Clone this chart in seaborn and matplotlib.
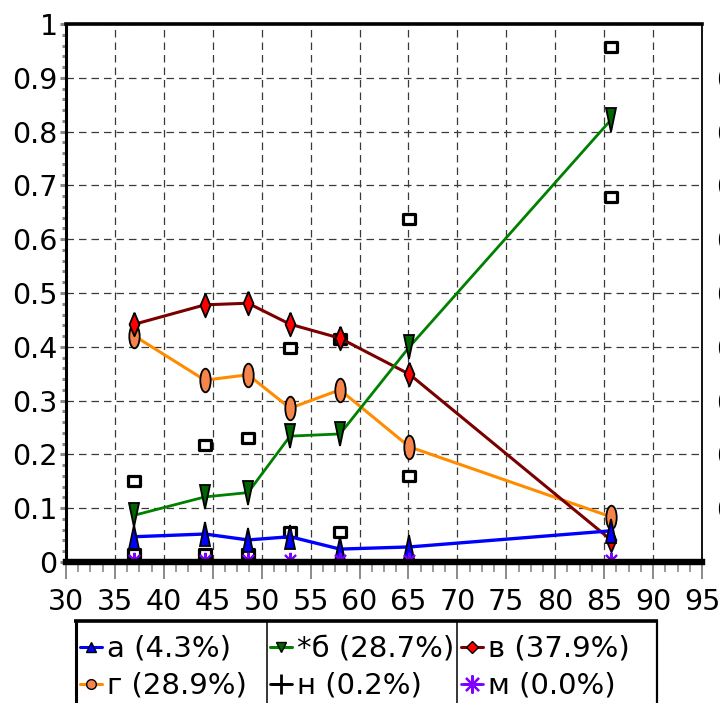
import matplotlib
matplotlib.use("Agg")
import numpy as np
import pandas as pd
import matplotlib.pyplot as plt
import seaborn as sns
from matplotlib.markers import MarkerStyle
from matplotlib.transforms import Affine2D
from matplotlib.lines import Line2D
from matplotlib.ticker import MultipleLocator

# ---------------- data ----------------
x_vals = [37.0, 44.2, 48.6, 52.9, 58.0, 65.1, 85.7]
a_vals = [0.047, 0.052, 0.041, 0.047, 0.024, 0.028, 0.058]
b_vals = [0.087, 0.121, 0.129, 0.234, 0.238, 0.400, 0.822]
v_vals = [0.442, 0.478, 0.481, 0.442, 0.416, 0.349, 0.041]
g_vals = [0.420, 0.338, 0.348, 0.286, 0.320, 0.214, 0.084]
n_vals = [0.002, 0.002, 0.002, 0.002, 0.002, 0.002, 0.002]
m_vals = [0.004, 0.004, 0.004, 0.004, 0.004, 0.004, 0.004]
range_lo = [0.015, 0.015, 0.015, 0.055, 0.055, 0.160, 0.678]
range_hi = [0.150, 0.218, 0.230, 0.398, 0.415, 0.637, 0.957]

legend_labels = ["а (4.3%)", "г (28.9%)", "*б (28.7%)", "н (0.2%)", "в (37.9%)", "м (0.0%)"]
x_ticks = [30, 35, 40, 45, 50, 55, 60, 65, 70, 75, 80, 85, 90, 95]
y_ticks = [0, 0.1, 0.2, 0.3, 0.4, 0.5, 0.6, 0.7, 0.8, 0.9, 1.0]
y_ticklabels = ["0", "0.1", "0.2", "0.3", "0.4", "0.5", "0.6", "0.7", "0.8", "0.9", "1"]
right_ticks = [0.1, 0.2, 0.3, 0.4, 0.5, 0.6, 0.7, 0.8, 0.9]
right_ticklabels = ["0.1", "0.2", "0.3", "0.4", "0.5", "0.6", "0.7", "0.8", "0.9"]

sns.set_theme(style="white")
plt.rcParams["font.family"] = ["DejaVu Sans"]
plt.rcParams["text.color"] = "black"

W, H = 720, 703
fig = plt.figure(figsize=(W / 100, H / 100), dpi=100)
ax = fig.add_axes([66 / W, 1 - 562 / H, (702 - 66) / W, (562 - 24) / H])


def tall(m, sx=0.42):
    return MarkerStyle(m, transform=Affine2D().scale(sx, 1.0))


diamond = [(0, 1), (0.42, 0), (0, -1), (-0.42, 0), (0, 1)]

# range rectangles (hollow)
rng = pd.DataFrame({"x": x_vals + x_vals, "y": range_lo + range_hi})
sns.scatterplot(data=rng, x="x", y="y", ax=ax, marker=tall("s", 1.3), s=46,
                color="white", edgecolor="black", linewidth=2.3, zorder=1.8,
                legend=False)

common = dict(errorbar=None, ax=ax, markeredgecolor="black", markeredgewidth=1.3,
              legend=False)

sns.lineplot(x=x_vals, y=g_vals, color="#ff8c00", linewidth=2.2, marker=tall("o", 0.44),
             markersize=17, markerfacecolor="#f5854a", zorder=2.2, **common)
sns.lineplot(x=x_vals, y=v_vals, color="#7a0000", linewidth=2.2, marker=diamond,
             markersize=17, markerfacecolor="#ff0000", zorder=2.3, **common)
sns.lineplot(x=x_vals, y=b_vals, color="#008000", linewidth=2.0, marker=tall("v", 0.45),
             markersize=17, markerfacecolor="#006400", zorder=2.4, **common)
sns.lineplot(x=x_vals, y=a_vals, color="#0000ff", linewidth=2.4, marker=tall("^", 0.42),
             markersize=17, markerfacecolor="#0000ff", zorder=2.5, **common)
sns.lineplot(x=x_vals, y=n_vals, color="black", linewidth=2.0, marker="+",
             markersize=12, markeredgewidth=2, ax=ax, errorbar=None, legend=False, zorder=2.6)
sns.lineplot(x=x_vals, y=m_vals, color="#8000ff", linewidth=2.0, marker=(8, 2, 0),
             markersize=11, markeredgewidth=1.5, markeredgecolor="#8000ff",
             ax=ax, errorbar=None, legend=False, zorder=2.7)

ax.set_xlim(30, 95)
ax.set_ylim(0, 1)
ax.set_xticks(x_ticks)
ax.set_xticklabels([str(t) for t in x_ticks])
ax.set_yticks(y_ticks)
ax.set_yticklabels(y_ticklabels)
ax.xaxis.set_minor_locator(MultipleLocator(1.25))
ax.yaxis.set_minor_locator(MultipleLocator(0.02))
ax.set_xlabel("")
ax.set_ylabel("")

ax.grid(True, which="major", color="#3a3a3a", linestyle=(0, (6, 4)), linewidth=0.9)
ax.set_axisbelow(True)

ax.tick_params(axis="x", which="major", bottom=True, direction="out", length=12,
               width=1.4, color="#8a8a8a", labelsize=20.5, labelcolor="black", pad=7)
ax.tick_params(axis="x", which="minor", bottom=True, direction="out", length=7,
               width=1.2, color="#8a8a8a")
ax.tick_params(axis="y", which="major", left=True, direction="out", length=4,
               width=2.2, color="#8a8a8a", labelsize=20.5, labelcolor="black", pad=2)
ax.tick_params(axis="y", which="minor", left=True, direction="out", length=3,
               width=2.2, color="#8a8a8a")

for side, lw in [("left", 2.2), ("top", 2.6), ("right", 1.3), ("bottom", 4.6)]:
    ax.spines[side].set_visible(True)
    ax.spines[side].set_color("black")
    ax.spines[side].set_linewidth(lw)
    ax.spines[side].set_zorder(5)

# right-side labels (cut by figure edge)
ax2 = ax.twinx()
ax2.set_ylim(0, 1)
ax2.set_yticks(right_ticks)
ax2.set_yticklabels(right_ticklabels)
ax2.tick_params(axis="y", right=True, length=0, labelsize=20.5, pad=10.5, labelcolor="black")
ax2.grid(False)
for s in ax2.spines.values():
    s.set_visible(False)

# legend (three columns)
h_a = Line2D([], [], color="#0000ff", lw=2.2, marker="^", ms=7, mfc="#0000ff", mec="black", mew=1)
h_g = Line2D([], [], color="#ff8c00", lw=2.2, marker="o", ms=7, mfc="#f5854a", mec="black", mew=1)
h_b = Line2D([], [], color="#008000", lw=2.2, marker="v", ms=7, mfc="#006400", mec="black", mew=1)
h_n = Line2D([], [], color="black", lw=2.0, marker="+", ms=14, mec="black", mew=2)
h_v = Line2D([], [], color="#7a0000", lw=2.2, marker="D", ms=6, mfc="#ff0000", mec="black", mew=1)
h_m = Line2D([], [], color="#8000ff", lw=2.0, marker=(8, 2, 0), ms=13, mec="#8000ff", mew=1.6)

cols = [([h_a, h_g], legend_labels[0:2], 80),
        ([h_b, h_n], legend_labels[2:4], 270),
        ([h_v, h_m], legend_labels[4:6], 461)]
for hs, ls, x0 in cols:
    fig.legend(handles=hs, labels=ls, loc="upper left",
               bbox_to_anchor=(x0 / W, 1 - 635 / H), frameon=False, fontsize=21,
               handlelength=0.76, handletextpad=0.17, borderpad=0, borderaxespad=0,
               labelspacing=0.3, labelcolor="black")

def fline(x1, y1, x2, y2, lw):
    fig.add_artist(Line2D([x1 / W, x2 / W], [1 - y1 / H, 1 - y2 / H],
                          transform=fig.transFigure, color="black", lw=lw,
                          solid_capstyle="butt"))

fline(74, 621, 658, 621, 2.6)
fline(75.5, 620, 75.5, 710, 2.2)
fline(267, 620, 267, 710, 1.1)
fline(457, 620, 457, 710, 1.1)
fline(657, 620, 657, 710, 1.6)

fig.savefig("out.png", dpi=100)
